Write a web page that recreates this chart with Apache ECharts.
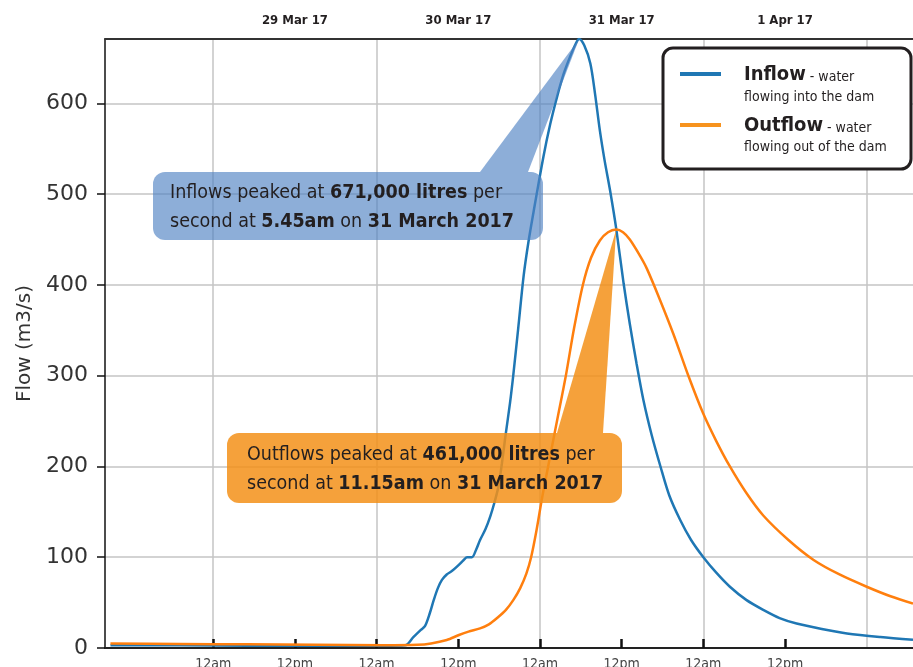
<!DOCTYPE html>
<html><head><meta charset="utf-8">
<script src="https://cdn.jsdelivr.net/npm/echarts@6/dist/echarts.min.js"></script>
<style>html,body{margin:0;padding:0;background:#fff}#c{width:913px;height:667px}</style>
</head><body><div id="c"></div>
<script>
// x values are hours after 12am on 29 March 2017
const inflowHours = [-15.1,-5,5,15,25,28.2,29.4,30.5,31.1,31.8,32.4,33.0,33.6,34.3,35.1,36.0,36.8,37.3,38.0,38.6,39.2,40.0,40.7,41.3,41.9,42.4,42.9,43.6,44.1,44.8,45.6,46.3,47.0,48.5,49.5,50.5,51.5,52.4,53.2,53.75,54.5,55.4,56.1,56.8,57.5,58.3,59.2,60.3,61.2,62.2,63.2,64.4,65.7,67.0,68.6,70.2,72.0,73.9,75.9,78.3,80.8,83.2,85.7,89.4,93.1,98,102.8];
const inflowValues = [3,3,2.5,2.5,2.5,3,12,20,24,38,53,66,75,81,85,91,97,100,100,108,119,131,145,160,178,203,232,270,302,352,410,447,478,541,577,607,633,651,665,671,664,644,610,570,537,504,462,401,357,313,273,235,200,168,141,119,100,83,67.5,53,42,33,27,21,16,12,9];
const outflowHours = [-15.1,-5,5,15,25,30,32,34.3,36.1,37.5,39.2,40.5,41.7,43.0,44.1,45.1,46.0,46.7,47.5,48.3,49.2,50.5,51.8,53.0,54.3,55.5,56.8,58.0,59.2,60.2,61.2,62.7,63.7,65.5,67.6,69.8,72.0,73.9,75.9,78.3,80.8,84.5,88.2,92,96.0,99.5,102.8];
const outflowValues = [5,4.5,4,3.5,3,3.5,5,8.8,14.3,18,21.6,26,33,42,53,66,82,100,130,165,200,250,300,352,400,430,449,458,461,458,450,432,418,386,346,300,258,228,200,171,146,119,97,81,67.5,57,49];
const bottomTickHours = [0,12,24,36,48,60,72,84];
const bottomTickLabels = ['12am','12pm','12am','12pm','12am','12pm','12am','12pm'];
const dayGridHours = [0,24,48,72,96];
const dateHours = [12,36,60,84];
const dateLabels = ['29 Mar 17','30 Mar 17','31 Mar 17','1 Apr 17'];
const yTickValues = [0,100,200,300,400,500,600];
const xMin = -15.9, xMax = 102.8, yMax = 671;

const COND = "'Liberation Sans Narrow','DejaVu Sans Condensed','Roboto Condensed',sans-serif";
const DARK = '#231f20';
const chart = echarts.init(document.getElementById('c'), null, {renderer:'canvas'});

const zip = (xs, ys) => xs.map((x,i)=>[x, ys[i]]);

chart.setOption({
  animation:false,
  grid:{left:105, top:39, right:0, bottom:19, containLabel:false, outerBoundsMode:'none'},
  xAxis:[
    {type:'value', position:'bottom', min:xMin, max:xMax,
     axisLine:{show:true, onZero:false, lineStyle:{color:'#222', width:2}},
     axisTick:{show:true, customValues:bottomTickHours, inside:true, length:9, lineStyle:{color:'#111', width:2.5}},
     axisLabel:{customValues:bottomTickHours, formatter:v=>bottomTickLabels[bottomTickHours.indexOf(v)], margin:9, fontSize:14, color:'#444', fontFamily:COND},
     splitLine:{show:false}},
    {type:'value', position:'top', min:xMin, max:xMax,
     axisLine:{show:true, onZero:false, lineStyle:{color:'#333', width:2}},
     axisTick:{show:false, customValues:dayGridHours},
     axisLabel:{customValues:dateHours, formatter:v=>dateLabels[dateHours.indexOf(v)], margin:12, fontSize:13, fontWeight:'bold', color:DARK, fontFamily:COND},
     splitLine:{show:true, lineStyle:{color:'#c4c4c4', width:1.5}}}
  ],
  yAxis:{type:'value', min:0, max:yMax,
     axisLine:{show:true, onZero:false, lineStyle:{color:'#111', width:1.5}},
     axisTick:{show:true, customValues:yTickValues, length:8, lineStyle:{color:'#111', width:1.5}},
     axisLabel:{customValues:yTickValues, margin:17, fontSize:22, color:'#333', fontFamily:'DejaVu Sans'},
     splitLine:{show:true, lineStyle:{color:'#c4c4c4', width:1.5}},
     name:'Flow (m3/s)', nameLocation:'middle', nameGap:70,
     nameTextStyle:{fontSize:20, color:'#333', fontFamily:'DejaVu Sans'}},
  series:[
    {name:'Inflow', type:'line', xAxisIndex:0, data:zip(inflowHours, inflowValues), showSymbol:false, smooth:0.3,
     lineStyle:{color:'#1f77b4', width:2.5}, itemStyle:{color:'#1f77b4'}, z:2},
    {name:'Outflow', type:'line', xAxisIndex:0, data:zip(outflowHours, outflowValues), showSymbol:false, smooth:0.3,
     lineStyle:{color:'#ff7f0e', width:2.5}, itemStyle:{color:'#ff7f0e'}, z:3}
  ]
});

// Callout apexes from data peaks
const inPeakIdx = inflowValues.indexOf(Math.max(...inflowValues));
const outPeakIdx = outflowValues.indexOf(Math.max(...outflowValues));
const inApex = chart.convertToPixel({xAxisIndex:0, yAxisIndex:0}, [inflowHours[inPeakIdx], inflowValues[inPeakIdx]]);
const outApex = chart.convertToPixel({xAxisIndex:0, yAxisIndex:0}, [outflowHours[outPeakIdx], outflowValues[outPeakIdx]]);

const blueFill = 'rgba(80,130,195,0.65)';
const orangeFill = 'rgba(243,145,25,0.85)';
const rich = {b:{fontWeight:'bold', fontSize:19.5, fontFamily:COND, fill:DARK}};
const legRich = {t:{fontSize:20, fontWeight:'bold', fontFamily:COND, fill:DARK}, s:{fontSize:14, fontFamily:COND, fill:DARK, padding:[4,0,0,0]}};
chart.setOption({
  graphic:[
    {type:'polygon', z:50, shape:{points:[[480,172],[528,172],inApex]}, style:{fill:blueFill}},
    {type:'rect', z:50, shape:{x:153, y:172, width:390, height:68, r:12}, style:{fill:blueFill}},
    {type:'text', z:51, x:170, y:207, style:{text:'Inflows peaked at {b|671,000 litres} per\nsecond at {b|5.45am} on {b|31 March 2017}',
      rich:rich, fontSize:19.5, fontFamily:COND, fill:DARK, lineHeight:29, verticalAlign:'middle'}},
    {type:'polygon', z:50, shape:{points:[[557,433],[603,433],outApex]}, style:{fill:orangeFill}},
    {type:'rect', z:50, shape:{x:227, y:433, width:395, height:70, r:12}, style:{fill:orangeFill}},
    {type:'text', z:51, x:247, y:469, style:{text:'Outflows peaked at {b|461,000 litres} per\nsecond at {b|11.15am} on {b|31 March 2017}',
      rich:rich, fontSize:19.5, fontFamily:COND, fill:DARK, lineHeight:29, verticalAlign:'middle'}},
    // legend
    {type:'rect', z:60, shape:{x:663, y:48, width:248, height:121, r:10}, style:{fill:'#fff', stroke:DARK, lineWidth:3}},
    {type:'line', z:61, shape:{x1:680, y1:74, x2:721, y2:74}, style:{stroke:'#1f77b4', lineWidth:4}},
    {type:'line', z:61, shape:{x1:680, y1:125, x2:721, y2:125}, style:{stroke:'#f7931e', lineWidth:4}},
    {type:'text', z:61, x:744, y:75, style:{text:'{t|Inflow}{s| - water}', verticalAlign:'middle', rich:legRich}},
    {type:'text', z:61, x:744, y:97, style:{text:'flowing into the dam', fontSize:14, fontFamily:COND, fill:DARK, verticalAlign:'middle'}},
    {type:'text', z:61, x:744, y:126, style:{text:'{t|Outflow}{s| - water}', verticalAlign:'middle', rich:legRich}},
    {type:'text', z:61, x:744, y:147, style:{text:'flowing out of the dam', fontSize:14, fontFamily:COND, fill:DARK, verticalAlign:'middle'}}
  ]
});
</script></body></html>
